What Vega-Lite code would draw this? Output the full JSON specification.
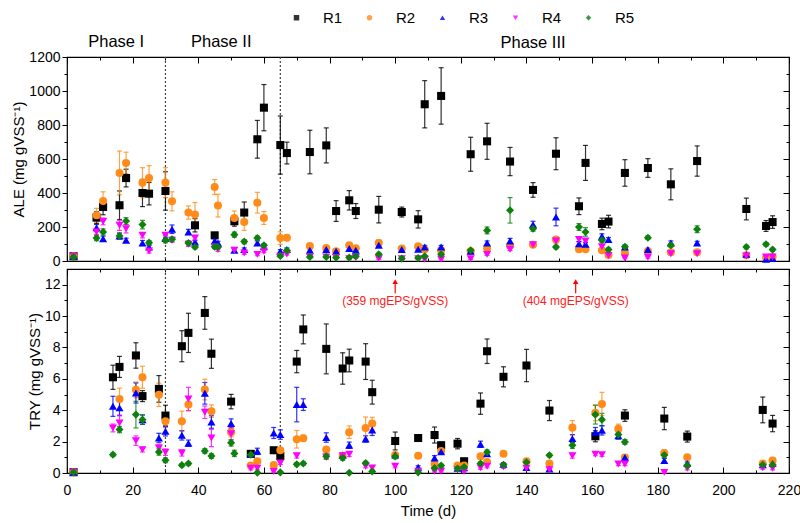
{
 "$schema": "https://vega.github.io/schema/vega-lite/v6.json",
 "padding": {"left": 11, "top": 10, "right": 5, "bottom": 4},
 "background": "white",
 "spacing": -6,
 "config": {
  "font": "Liberation Sans",
  "view": {"stroke": "black", "strokeWidth": 1.2},
  "axis": {"grid": false, "domain": false, "labelFlush": false, "minExtent": 0, "labelFont": "Liberation Sans", "labelFontSize": 14, "labelColor": "black", "titleFont": "Liberation Sans", "titleFontSize": 15, "titleFontWeight": "normal", "titleColor": "black", "tickColor": "black", "tickWidth": 1},
  "legend": {"orient": "none", "legendX": 222, "legendY": -47, "direction": "horizontal", "title": null, "labelFont": "Liberation Sans", "labelFontSize": 15, "labelColor": "black", "labelOffset": 19, "columnPadding": 19, "symbolSize": 30, "symbolStrokeWidth": 0}
 },
 "datasets": {
  "ale": [
   {"s":"R1","d":2,"v":28,"e":5},{"s":"R1","d":9,"v":255,"e":35},{"s":"R1","d":11,"v":318,"e":46},{"s":"R1","d":16,"v":328,"e":84},{"s":"R1","d":18,"v":488,"e":52},{"s":"R1","d":23,"v":400,"e":80},{"s":"R1","d":25,"v":396,"e":66},{"s":"R1","d":30,"v":412,"e":113},{"s":"R1","d":39,"v":210,"e":39},{"s":"R1","d":45,"v":151,"e":15},{"s":"R1","d":51,"v":234,"e":29},{"s":"R1","d":54,"v":285,"e":62},{"s":"R1","d":58,"v":716,"e":111},{"s":"R1","d":60,"v":902,"e":136},{"s":"R1","d":65,"v":682,"e":171},{"s":"R1","d":67,"v":635,"e":64},{"s":"R1","d":74,"v":641,"e":128},{"s":"R1","d":79,"v":680,"e":103},{"s":"R1","d":82,"v":294,"e":61},{"s":"R1","d":86,"v":357,"e":57},{"s":"R1","d":88,"v":294,"e":44},{"s":"R1","d":95,"v":302,"e":78},{"s":"R1","d":102,"v":288,"e":29},{"s":"R1","d":107,"v":245,"e":51},{"s":"R1","d":109,"v":922,"e":139},{"s":"R1","d":114,"v":971,"e":166},{"s":"R1","d":123,"v":628,"e":100},{"s":"R1","d":128,"v":704,"e":106},{"s":"R1","d":135,"v":585,"e":83},{"s":"R1","d":142,"v":418,"e":43},{"s":"R1","d":149,"v":631,"e":94},{"s":"R1","d":156,"v":322,"e":49},{"s":"R1","d":158,"v":577,"e":103},{"s":"R1","d":163,"v":218,"e":34},{"s":"R1","d":165,"v":232,"e":37},{"s":"R1","d":170,"v":518,"e":78},{"s":"R1","d":177,"v":547,"e":55},{"s":"R1","d":184,"v":451,"e":91},{"s":"R1","d":192,"v":588,"e":89},{"s":"R1","d":207,"v":306,"e":64},{"s":"R1","d":213,"v":206,"e":32},{"s":"R1","d":215,"v":229,"e":37},
   {"s":"R2","d":2,"v":28,"e":5},{"s":"R2","d":9,"v":269,"e":41},{"s":"R2","d":11,"v":353,"e":54},{"s":"R2","d":16,"v":518,"e":129},{"s":"R2","d":18,"v":577,"e":63},{"s":"R2","d":23,"v":461,"e":88},{"s":"R2","d":25,"v":488,"e":73},{"s":"R2","d":30,"v":461,"e":88},{"s":"R2","d":32,"v":351,"e":56},{"s":"R2","d":37,"v":285,"e":39},{"s":"R2","d":39,"v":273,"e":71},{"s":"R2","d":45,"v":435,"e":44},{"s":"R2","d":46,"v":326,"e":67},{"s":"R2","d":51,"v":253,"e":41},{"s":"R2","d":54,"v":229,"e":49},{"s":"R2","d":58,"v":343,"e":61},{"s":"R2","d":60,"v":253,"e":38},{"s":"R2","d":65,"v":135,"e":37},{"s":"R2","d":67,"v":137,"e":15},{"s":"R2","d":74,"v":88,"e":12},{"s":"R2","d":79,"v":77,"e":12},{"s":"R2","d":82,"v":57,"e":10},{"s":"R2","d":86,"v":92,"e":12},{"s":"R2","d":88,"v":75,"e":10},{"s":"R2","d":95,"v":106,"e":20},{"s":"R2","d":102,"v":73,"e":10},{"s":"R2","d":107,"v":86,"e":12},{"s":"R2","d":109,"v":67,"e":10},{"s":"R2","d":114,"v":63,"e":10},{"s":"R2","d":123,"v":57,"e":10},{"s":"R2","d":128,"v":73,"e":10},{"s":"R2","d":135,"v":90,"e":12},{"s":"R2","d":142,"v":96,"e":10},{"s":"R2","d":149,"v":126,"e":15},{"s":"R2","d":156,"v":69,"e":10},{"s":"R2","d":158,"v":69,"e":12},{"s":"R2","d":163,"v":63,"e":10},{"s":"R2","d":165,"v":35,"e":8},{"s":"R2","d":170,"v":47,"e":8},{"s":"R2","d":177,"v":57,"e":8},{"s":"R2","d":184,"v":51,"e":8},{"s":"R2","d":192,"v":51,"e":8},{"s":"R2","d":207,"v":34,"e":6},{"s":"R2","d":213,"v":18,"e":5},{"s":"R2","d":215,"v":24,"e":5},
   {"s":"R3","d":2,"v":28,"e":5},{"s":"R3","d":9,"v":195,"e":20},{"s":"R3","d":11,"v":131,"e":15},{"s":"R3","d":16,"v":147,"e":18},{"s":"R3","d":18,"v":122,"e":12},{"s":"R3","d":23,"v":106,"e":15},{"s":"R3","d":25,"v":82,"e":10},{"s":"R3","d":30,"v":133,"e":15},{"s":"R3","d":32,"v":187,"e":25},{"s":"R3","d":37,"v":171,"e":15},{"s":"R3","d":39,"v":112,"e":12},{"s":"R3","d":45,"v":118,"e":12},{"s":"R3","d":46,"v":106,"e":10},{"s":"R3","d":51,"v":63,"e":10},{"s":"R3","d":54,"v":67,"e":10},{"s":"R3","d":58,"v":106,"e":12},{"s":"R3","d":60,"v":84,"e":10},{"s":"R3","d":65,"v":57,"e":10},{"s":"R3","d":67,"v":67,"e":10},{"s":"R3","d":74,"v":63,"e":8},{"s":"R3","d":79,"v":67,"e":8},{"s":"R3","d":82,"v":57,"e":8},{"s":"R3","d":86,"v":73,"e":8},{"s":"R3","d":88,"v":63,"e":8},{"s":"R3","d":95,"v":92,"e":10},{"s":"R3","d":102,"v":67,"e":8},{"s":"R3","d":107,"v":69,"e":8},{"s":"R3","d":109,"v":82,"e":10},{"s":"R3","d":114,"v":82,"e":10},{"s":"R3","d":123,"v":57,"e":8},{"s":"R3","d":128,"v":106,"e":12},{"s":"R3","d":135,"v":118,"e":15},{"s":"R3","d":142,"v":214,"e":20},{"s":"R3","d":149,"v":259,"e":52},{"s":"R3","d":156,"v":102,"e":12},{"s":"R3","d":158,"v":98,"e":12},{"s":"R3","d":163,"v":145,"e":15},{"s":"R3","d":165,"v":126,"e":12},{"s":"R3","d":170,"v":82,"e":10},{"s":"R3","d":177,"v":67,"e":8},{"s":"R3","d":184,"v":106,"e":12},{"s":"R3","d":192,"v":106,"e":10},{"s":"R3","d":207,"v":39,"e":6},{"s":"R3","d":213,"v":10,"e":5},{"s":"R3","d":215,"v":16,"e":5},
   {"s":"R4","d":2,"v":28,"e":5},{"s":"R4","d":9,"v":171,"e":15},{"s":"R4","d":11,"v":233,"e":20},{"s":"R4","d":16,"v":210,"e":30},{"s":"R4","d":18,"v":190,"e":25},{"s":"R4","d":23,"v":151,"e":15},{"s":"R4","d":25,"v":59,"e":12},{"s":"R4","d":30,"v":151,"e":15},{"s":"R4","d":32,"v":122,"e":12},{"s":"R4","d":37,"v":98,"e":12},{"s":"R4","d":39,"v":135,"e":15},{"s":"R4","d":45,"v":82,"e":10},{"s":"R4","d":46,"v":67,"e":10},{"s":"R4","d":51,"v":63,"e":10},{"s":"R4","d":54,"v":47,"e":8},{"s":"R4","d":58,"v":39,"e":8},{"s":"R4","d":60,"v":57,"e":8},{"s":"R4","d":65,"v":28,"e":6},{"s":"R4","d":67,"v":41,"e":6},{"s":"R4","d":74,"v":24,"e":5},{"s":"R4","d":79,"v":24,"e":5},{"s":"R4","d":82,"v":20,"e":5},{"s":"R4","d":86,"v":14,"e":5},{"s":"R4","d":88,"v":20,"e":5},{"s":"R4","d":95,"v":14,"e":5},{"s":"R4","d":102,"v":14,"e":5},{"s":"R4","d":107,"v":14,"e":5},{"s":"R4","d":109,"v":10,"e":5},{"s":"R4","d":114,"v":10,"e":5},{"s":"R4","d":123,"v":14,"e":5},{"s":"R4","d":128,"v":39,"e":6},{"s":"R4","d":135,"v":69,"e":8},{"s":"R4","d":142,"v":96,"e":10},{"s":"R4","d":149,"v":118,"e":12},{"s":"R4","d":156,"v":126,"e":12},{"s":"R4","d":158,"v":118,"e":12},{"s":"R4","d":163,"v":84,"e":10},{"s":"R4","d":165,"v":33,"e":6},{"s":"R4","d":170,"v":18,"e":5},{"s":"R4","d":177,"v":22,"e":5},{"s":"R4","d":184,"v":43,"e":6},{"s":"R4","d":192,"v":43,"e":6},{"s":"R4","d":207,"v":30,"e":5},{"s":"R4","d":213,"v":24,"e":5},{"s":"R4","d":215,"v":24,"e":5},
   {"s":"R5","d":2,"v":24,"e":5},{"s":"R5","d":9,"v":135,"e":15},{"s":"R5","d":11,"v":171,"e":18},{"s":"R5","d":16,"v":147,"e":15},{"s":"R5","d":18,"v":235,"e":20},{"s":"R5","d":23,"v":214,"e":25},{"s":"R5","d":25,"v":108,"e":12},{"s":"R5","d":30,"v":122,"e":15},{"s":"R5","d":32,"v":128,"e":12},{"s":"R5","d":37,"v":106,"e":12},{"s":"R5","d":39,"v":82,"e":10},{"s":"R5","d":45,"v":84,"e":10},{"s":"R5","d":46,"v":82,"e":10},{"s":"R5","d":51,"v":155,"e":15},{"s":"R5","d":54,"v":114,"e":12},{"s":"R5","d":58,"v":135,"e":12},{"s":"R5","d":60,"v":92,"e":10},{"s":"R5","d":65,"v":30,"e":6},{"s":"R5","d":67,"v":62,"e":8},{"s":"R5","d":74,"v":24,"e":5},{"s":"R5","d":79,"v":24,"e":5},{"s":"R5","d":82,"v":20,"e":5},{"s":"R5","d":86,"v":20,"e":5},{"s":"R5","d":88,"v":28,"e":5},{"s":"R5","d":95,"v":39,"e":6},{"s":"R5","d":102,"v":14,"e":5},{"s":"R5","d":107,"v":18,"e":5},{"s":"R5","d":109,"v":28,"e":5},{"s":"R5","d":114,"v":39,"e":6},{"s":"R5","d":123,"v":63,"e":8},{"s":"R5","d":128,"v":180,"e":20},{"s":"R5","d":135,"v":298,"e":75},{"s":"R5","d":142,"v":190,"e":15},{"s":"R5","d":149,"v":82,"e":10},{"s":"R5","d":156,"v":200,"e":20},{"s":"R5","d":158,"v":171,"e":25},{"s":"R5","d":163,"v":122,"e":12},{"s":"R5","d":165,"v":67,"e":10},{"s":"R5","d":170,"v":84,"e":10},{"s":"R5","d":177,"v":137,"e":10},{"s":"R5","d":184,"v":92,"e":10},{"s":"R5","d":192,"v":187,"e":20},{"s":"R5","d":207,"v":82,"e":10},{"s":"R5","d":213,"v":98,"e":10},{"s":"R5","d":215,"v":67,"e":8}
  ],
  "try": [
   {"s":"R1","d":2,"v":0.05,"e":0.02},{"s":"R1","d":14,"v":6.1,"e":0.77},{"s":"R1","d":16,"v":6.76,"e":0.67},{"s":"R1","d":21,"v":7.49,"e":0.81},{"s":"R1","d":23,"v":4.9,"e":0.35},{"s":"R1","d":28,"v":5.36,"e":0.85},{"s":"R1","d":30,"v":3.66,"e":0.66},{"s":"R1","d":35,"v":8.08,"e":0.99},{"s":"R1","d":37,"v":8.93,"e":1.25},{"s":"R1","d":42,"v":10.2,"e":1.04},{"s":"R1","d":44,"v":7.6,"e":0.93},{"s":"R1","d":50,"v":4.55,"e":0.46},{"s":"R1","d":56,"v":1.22,"e":0.1},{"s":"R1","d":63,"v":1.45,"e":0.1},{"s":"R1","d":65,"v":1.08,"e":0.1},{"s":"R1","d":70,"v":7.1,"e":0.71},{"s":"R1","d":72,"v":9.15,"e":0.92},{"s":"R1","d":79,"v":7.91,"e":1.59},{"s":"R1","d":84,"v":6.66,"e":1.0},{"s":"R1","d":86,"v":7.17,"e":0.72},{"s":"R1","d":91,"v":7.1,"e":1.14},{"s":"R1","d":93,"v":5.15,"e":0.76},{"s":"R1","d":100,"v":2.04,"e":0.57},{"s":"R1","d":107,"v":2.23,"e":0.21},{"s":"R1","d":112,"v":2.42,"e":0.51},{"s":"R1","d":114,"v":1.77,"e":0.2},{"s":"R1","d":119,"v":1.87,"e":0.33},{"s":"R1","d":121,"v":0.75,"e":0.15},{"s":"R1","d":126,"v":4.42,"e":0.68},{"s":"R1","d":128,"v":7.76,"e":0.78},{"s":"R1","d":133,"v":6.13,"e":0.64},{"s":"R1","d":140,"v":6.85,"e":1.03},{"s":"R1","d":147,"v":3.98,"e":0.64},{"s":"R1","d":161,"v":2.34,"e":0.35},{"s":"R1","d":170,"v":3.66,"e":0.37},{"s":"R1","d":182,"v":3.47,"e":0.71},{"s":"R1","d":189,"v":2.32,"e":0.35},{"s":"R1","d":212,"v":4.02,"e":0.82},{"s":"R1","d":215,"v":3.15,"e":0.52},
   {"s":"R2","d":2,"v":0.05,"e":0.02},{"s":"R2","d":16,"v":4.72,"e":0.69},{"s":"R2","d":21,"v":5.3,"e":0.5},{"s":"R2","d":23,"v":6.1,"e":0.7},{"s":"R2","d":28,"v":4.98,"e":0.74},{"s":"R2","d":30,"v":3.3,"e":0.4},{"s":"R2","d":35,"v":3.3,"e":0.64},{"s":"R2","d":37,"v":4.36,"e":0.4},{"s":"R2","d":42,"v":5.32,"e":0.66},{"s":"R2","d":44,"v":3.94,"e":0.4},{"s":"R2","d":50,"v":2.6,"e":0.3},{"s":"R2","d":56,"v":0.47,"e":0.1},{"s":"R2","d":58,"v":0.75,"e":0.15},{"s":"R2","d":63,"v":0.5,"e":0.1},{"s":"R2","d":65,"v":1.45,"e":0.15},{"s":"R2","d":70,"v":2.15,"e":0.56},{"s":"R2","d":72,"v":2.21,"e":0.2},{"s":"R2","d":79,"v":1.49,"e":0.15},{"s":"R2","d":84,"v":1.1,"e":0.15},{"s":"R2","d":86,"v":2.6,"e":0.4},{"s":"R2","d":91,"v":2.87,"e":0.7},{"s":"R2","d":93,"v":3.15,"e":0.4},{"s":"R2","d":100,"v":1.15,"e":0.15},{"s":"R2","d":107,"v":1.1,"e":0.15},{"s":"R2","d":112,"v":0.57,"e":0.1},{"s":"R2","d":114,"v":1.4,"e":0.15},{"s":"R2","d":119,"v":0.47,"e":0.1},{"s":"R2","d":121,"v":0.47,"e":0.1},{"s":"R2","d":126,"v":1.06,"e":0.15},{"s":"R2","d":128,"v":0.7,"e":0.1},{"s":"R2","d":133,"v":1.23,"e":0.15},{"s":"R2","d":140,"v":0.75,"e":0.1},{"s":"R2","d":147,"v":0.6,"e":0.1},{"s":"R2","d":154,"v":2.89,"e":0.45},{"s":"R2","d":161,"v":3.83,"e":0.5},{"s":"R2","d":163,"v":4.4,"e":0.74},{"s":"R2","d":168,"v":2.81,"e":0.3},{"s":"R2","d":170,"v":0.99,"e":0.15},{"s":"R2","d":182,"v":1.28,"e":0.2},{"s":"R2","d":189,"v":1.0,"e":0.15},{"s":"R2","d":212,"v":0.6,"e":0.1},{"s":"R2","d":215,"v":0.8,"e":0.15},
   {"s":"R3","d":2,"v":0.05,"e":0.02},{"s":"R3","d":14,"v":4.25,"e":0.64},{"s":"R3","d":16,"v":4.15,"e":0.5},{"s":"R3","d":21,"v":5.1,"e":0.64},{"s":"R3","d":23,"v":3.4,"e":0.3},{"s":"R3","d":28,"v":2.23,"e":0.3},{"s":"R3","d":30,"v":2.66,"e":0.3},{"s":"R3","d":35,"v":2.4,"e":0.3},{"s":"R3","d":37,"v":1.9,"e":0.2},{"s":"R3","d":42,"v":5.08,"e":0.69},{"s":"R3","d":44,"v":3.25,"e":0.4},{"s":"R3","d":50,"v":3.15,"e":0.3},{"s":"R3","d":56,"v":1.21,"e":0.2},{"s":"R3","d":58,"v":1.38,"e":0.2},{"s":"R3","d":63,"v":2.55,"e":0.35},{"s":"R3","d":65,"v":2.45,"e":0.3},{"s":"R3","d":70,"v":4.36,"e":1.1},{"s":"R3","d":72,"v":4.36,"e":0.37},{"s":"R3","d":79,"v":2.26,"e":0.3},{"s":"R3","d":84,"v":1.14,"e":0.15},{"s":"R3","d":86,"v":1.77,"e":0.2},{"s":"R3","d":91,"v":2.17,"e":0.2},{"s":"R3","d":93,"v":2.74,"e":0.35},{"s":"R3","d":100,"v":1.14,"e":0.15},{"s":"R3","d":107,"v":0.36,"e":0.1},{"s":"R3","d":112,"v":0.96,"e":0.15},{"s":"R3","d":114,"v":1.36,"e":0.15},{"s":"R3","d":119,"v":0.3,"e":0.1},{"s":"R3","d":121,"v":0.34,"e":0.1},{"s":"R3","d":126,"v":1.83,"e":0.2},{"s":"R3","d":128,"v":1.23,"e":0.15},{"s":"R3","d":133,"v":0.55,"e":0.1},{"s":"R3","d":140,"v":0.35,"e":0.1},{"s":"R3","d":147,"v":0.25,"e":0.1},{"s":"R3","d":154,"v":2.19,"e":0.25},{"s":"R3","d":161,"v":2.6,"e":0.3},{"s":"R3","d":163,"v":2.72,"e":0.3},{"s":"R3","d":168,"v":2.38,"e":0.2},{"s":"R3","d":170,"v":0.99,"e":0.15},{"s":"R3","d":182,"v":0.8,"e":0.15},{"s":"R3","d":189,"v":0.6,"e":0.1},{"s":"R3","d":212,"v":0.53,"e":0.1},{"s":"R3","d":215,"v":0.6,"e":0.1},
   {"s":"R4","d":2,"v":0.05,"e":0.02},{"s":"R4","d":14,"v":2.87,"e":0.25},{"s":"R4","d":16,"v":3.19,"e":0.5},{"s":"R4","d":21,"v":2.06,"e":0.3},{"s":"R4","d":23,"v":1.49,"e":0.15},{"s":"R4","d":28,"v":1.6,"e":0.2},{"s":"R4","d":30,"v":1.32,"e":0.2},{"s":"R4","d":35,"v":1.28,"e":0.2},{"s":"R4","d":37,"v":4.72,"e":0.74},{"s":"R4","d":42,"v":3.87,"e":0.4},{"s":"R4","d":44,"v":2.23,"e":0.55},{"s":"R4","d":50,"v":2.5,"e":0.4},{"s":"R4","d":56,"v":0.3,"e":0.1},{"s":"R4","d":58,"v":0.3,"e":0.1},{"s":"R4","d":63,"v":0.1,"e":0.05},{"s":"R4","d":65,"v":0.64,"e":0.1},{"s":"R4","d":70,"v":1.1,"e":0.15},{"s":"R4","d":79,"v":1.02,"e":0.15},{"s":"R4","d":84,"v":1.1,"e":0.15},{"s":"R4","d":86,"v":1.2,"e":0.15},{"s":"R4","d":91,"v":0.43,"e":0.1},{"s":"R4","d":93,"v":0.32,"e":0.1},{"s":"R4","d":100,"v":0.43,"e":0.1},{"s":"R4","d":107,"v":0.11,"e":0.05},{"s":"R4","d":112,"v":0.11,"e":0.05},{"s":"R4","d":114,"v":0.11,"e":0.05},{"s":"R4","d":119,"v":0.21,"e":0.05},{"s":"R4","d":121,"v":0.11,"e":0.05},{"s":"R4","d":126,"v":0.34,"e":0.1},{"s":"R4","d":128,"v":0.43,"e":0.1},{"s":"R4","d":133,"v":0.4,"e":0.1},{"s":"R4","d":140,"v":0.3,"e":0.1},{"s":"R4","d":147,"v":0.2,"e":0.05},{"s":"R4","d":154,"v":1.1,"e":0.15},{"s":"R4","d":161,"v":1.2,"e":0.1},{"s":"R4","d":163,"v":1.16,"e":0.1},{"s":"R4","d":168,"v":0.57,"e":0.1},{"s":"R4","d":170,"v":0.57,"e":0.1},{"s":"R4","d":182,"v":0.04,"e":0.05},{"s":"R4","d":189,"v":0.3,"e":0.1},{"s":"R4","d":212,"v":0.34,"e":0.1},{"s":"R4","d":215,"v":0.3,"e":0.1},
   {"s":"R5","d":2,"v":0.05,"e":0.03},{"s":"R5","d":14,"v":1.17,"e":0.1},{"s":"R5","d":16,"v":2.77,"e":0.2},{"s":"R5","d":21,"v":3.72,"e":0.85},{"s":"R5","d":23,"v":3.4,"e":0.3},{"s":"R5","d":28,"v":1.34,"e":0.2},{"s":"R5","d":30,"v":0.81,"e":0.15},{"s":"R5","d":35,"v":0.5,"e":0.1},{"s":"R5","d":37,"v":0.6,"e":0.1},{"s":"R5","d":42,"v":1.4,"e":0.15},{"s":"R5","d":44,"v":1.08,"e":0.15},{"s":"R5","d":50,"v":1.92,"e":0.2},{"s":"R5","d":51,"v":1.25,"e":0.2},{"s":"R5","d":56,"v":1.17,"e":0.15},{"s":"R5","d":58,"v":0.02,"e":0.05},{"s":"R5","d":65,"v":0.04,"e":0.05},{"s":"R5","d":70,"v":0.55,"e":0.1},{"s":"R5","d":72,"v":0.6,"e":0.1},{"s":"R5","d":79,"v":1.06,"e":0.15},{"s":"R5","d":84,"v":0.96,"e":0.15},{"s":"R5","d":86,"v":0.02,"e":0.05},{"s":"R5","d":91,"v":0.64,"e":0.1},{"s":"R5","d":93,"v":0.1,"e":0.05},{"s":"R5","d":100,"v":1.06,"e":0.15},{"s":"R5","d":107,"v":0.04,"e":0.05},{"s":"R5","d":112,"v":0.32,"e":0.1},{"s":"R5","d":114,"v":0.47,"e":0.1},{"s":"R5","d":119,"v":0.28,"e":0.1},{"s":"R5","d":121,"v":0.38,"e":0.1},{"s":"R5","d":126,"v":0.6,"e":0.1},{"s":"R5","d":128,"v":1.32,"e":0.15},{"s":"R5","d":133,"v":0.53,"e":0.1},{"s":"R5","d":140,"v":0.68,"e":0.1},{"s":"R5","d":147,"v":1.13,"e":0.1},{"s":"R5","d":154,"v":1.77,"e":0.2},{"s":"R5","d":161,"v":3.72,"e":0.6},{"s":"R5","d":163,"v":3.4,"e":0.4},{"s":"R5","d":168,"v":2.45,"e":0.3},{"s":"R5","d":170,"v":1.98,"e":0.15},{"s":"R5","d":182,"v":1.14,"e":0.2},{"s":"R5","d":189,"v":0.47,"e":0.1},{"s":"R5","d":212,"v":0.53,"e":0.1},{"s":"R5","d":215,"v":0.53,"e":0.1}
  ]
 },
 "vconcat": [
  {
   "width": 722, "height": 204,
   "resolve": {"axis": {"x": "independent", "y": "independent"}},
   "layer": [
    {
     "data": {"values": [{"d": 30}, {"d": 65}]},
     "mark": {"type": "rule", "strokeDash": [2, 2], "color": "#444444", "strokeWidth": 1.2},
     "encoding": {
      "x": {"field": "d", "type": "quantitative", "scale": {"domain": [0, 220], "nice": false},
            "axis": {"orient": "bottom", "values": [0,10,20,30,40,50,60,70,80,90,100,110,120,130,140,150,160,170,180,190,200,210,220], "labels": false, "title": null, "tickSize": {"condition": {"test": "datum.value % 20 === 0", "value": -6}, "value": -3}}}
     }
    },
    {
     "data": {"name": "ale"},
     "mark": {"type": "errorbar", "ticks": true, "thickness": 1.2, "opacity": 0.8},
     "encoding": {
      "x": {"field": "d", "type": "quantitative", "scale": {"domain": [0, 220], "nice": false},
            "axis": {"orient": "top", "values": [0,10,20,30,40,50,60,70,80,90,100,110,120,130,140,150,160,170,180,190,200,210,220], "labels": false, "title": null, "tickSize": {"condition": {"test": "datum.value % 20 === 0", "value": -6}, "value": -3}}},
      "y": {"field": "v", "type": "quantitative", "scale": {"domain": [0, 1200], "nice": false},
            "axis": {"orient": "left", "values": [0,100,200,300,400,500,600,700,800,900,1000,1100,1200], "format": "d", "labelExpr": "datum.value % 200 === 0 ? datum.label : ''", "title": "ALE (mg gVSS⁻¹)", "titlePadding": 2, "tickSize": {"condition": {"test": "datum.value % 200 === 0", "value": 5}, "value": 3}}},
      "yError": {"field": "e"},
      "color": {"field": "s", "type": "nominal", "scale": {"domain": ["R1","R2","R3","R4","R5"], "range": ["#000000","#FF8C1A","#0000FF","#FF00FF","#0E800E"]}}
     }
    },
    {
     "data": {"name": "ale"},
     "mark": {"type": "point", "filled": true, "size": 65, "opacity": 1},
     "encoding": {
      "x": {"field": "d", "type": "quantitative", "scale": {"domain": [0, 220], "nice": false}, "axis": null},
      "y": {"field": "v", "type": "quantitative", "scale": {"domain": [0, 1200], "nice": false},
            "axis": {"orient": "right", "values": [0,100,200,300,400,500,600,700,800,900,1000,1100,1200], "labels": false, "title": null, "tickSize": {"condition": {"test": "datum.value % 200 === 0", "value": -6}, "value": -3}}},
      "color": {"field": "s", "type": "nominal", "scale": {"domain": ["R1","R2","R3","R4","R5"], "range": ["#000000","#FF8C1A","#0000FF","#FF00FF","#0E800E"]}},
      "shape": {"field": "s", "type": "nominal", "scale": {"domain": ["R1","R2","R3","R4","R5"], "range": ["square","circle","triangle-up","triangle-down","diamond"]}}
     }
    },
    {
     "data": {"values": [{"t": "Phase I", "d": 15, "y": 1290}, {"t": "Phase II", "d": 47, "y": 1290}, {"t": "Phase III", "d": 142, "y": 1285}]},
     "mark": {"type": "text", "fontSize": 16.5, "font": "Liberation Sans", "color": "black", "baseline": "middle"},
     "encoding": {
      "x": {"field": "d", "type": "quantitative", "scale": {"domain": [0, 220], "nice": false}, "axis": null},
      "y": {"field": "y", "type": "quantitative", "scale": {"domain": [0, 1200], "nice": false}, "axis": null},
      "text": {"field": "t"}
     }
    }
   ]
  },
  {
   "width": 722, "height": 204,
   "resolve": {"axis": {"x": "independent", "y": "independent"}},
   "layer": [
    {
     "data": {"values": [{"d": 30}, {"d": 65}]},
     "mark": {"type": "rule", "strokeDash": [2, 2], "color": "#444444", "strokeWidth": 1.2},
     "encoding": {
      "x": {"field": "d", "type": "quantitative", "scale": {"domain": [0, 220], "nice": false},
            "axis": {"orient": "top", "values": [0,10,20,30,40,50,60,70,80,90,100,110,120,130,140,150,160,170,180,190,200,210,220], "labels": false, "title": null, "tickSize": {"condition": {"test": "datum.value % 20 === 0", "value": -6}, "value": -3}}}
     }
    },
    {
     "data": {"name": "try"},
     "mark": {"type": "errorbar", "ticks": true, "thickness": 1.2, "opacity": 0.8},
     "encoding": {
      "x": {"field": "d", "type": "quantitative", "scale": {"domain": [0, 220], "nice": false},
            "axis": {"orient": "bottom", "values": [0,10,20,30,40,50,60,70,80,90,100,110,120,130,140,150,160,170,180,190,200,210,220], "labelExpr": "datum.value % 20 === 0 ? datum.label : ''", "title": "Time (d)", "titlePadding": 6, "labelPadding": 16, "tickSize": {"condition": {"test": "datum.value % 20 === 0", "value": -6}, "value": -3}}},
      "y": {"field": "v", "type": "quantitative", "scale": {"domain": [0, 13], "nice": false},
            "axis": {"orient": "left", "values": [0,1,2,3,4,5,6,7,8,9,10,11,12], "labelExpr": "datum.value % 2 === 0 ? datum.label : ''", "title": "TRY (mg gVSS⁻¹)", "titlePadding": 2, "tickSize": {"condition": {"test": "datum.value % 2 === 0", "value": 5}, "value": 3}}},
      "yError": {"field": "e"},
      "color": {"field": "s", "type": "nominal", "scale": {"domain": ["R1","R2","R3","R4","R5"], "range": ["#000000","#FF8C1A","#0000FF","#FF00FF","#0E800E"]}}
     }
    },
    {
     "data": {"name": "try"},
     "mark": {"type": "point", "filled": true, "size": 65, "opacity": 1},
     "encoding": {
      "x": {"field": "d", "type": "quantitative", "scale": {"domain": [0, 220], "nice": false}, "axis": null},
      "y": {"field": "v", "type": "quantitative", "scale": {"domain": [0, 13], "nice": false},
            "axis": {"orient": "right", "values": [0,1,2,3,4,5,6,7,8,9,10,11,12], "labels": false, "title": null, "tickSize": {"condition": {"test": "datum.value % 2 === 0", "value": -6}, "value": -3}}},
      "color": {"field": "s", "type": "nominal", "scale": {"domain": ["R1","R2","R3","R4","R5"], "range": ["#000000","#FF8C1A","#0000FF","#FF00FF","#0E800E"]}},
      "shape": {"field": "s", "type": "nominal", "scale": {"domain": ["R1","R2","R3","R4","R5"], "range": ["square","circle","triangle-up","triangle-down","diamond"]}}
     }
    },
    {
     "data": {"values": [{"d": 100, "y1": 11.45, "y2": 12.2, "ty": 10.95, "t": "(359 mgEPS/gVSS)"}, {"d": 155, "y1": 11.45, "y2": 12.2, "ty": 10.95, "t": "(404 mgEPS/gVSS)"}]},
     "layer": [
      {
       "mark": {"type": "rule", "color": "#FF0000", "strokeWidth": 1.2},
       "encoding": {
        "x": {"field": "d", "type": "quantitative", "scale": {"domain": [0, 220], "nice": false}, "axis": null},
        "y": {"field": "y1", "type": "quantitative", "scale": {"domain": [0, 13], "nice": false}, "axis": null},
        "y2": {"field": "y2"}
       }
      },
      {
       "mark": {"type": "point", "shape": "triangle-up", "filled": true, "color": "#FF0000", "size": 30, "opacity": 1},
       "encoding": {
        "x": {"field": "d", "type": "quantitative", "scale": {"domain": [0, 220], "nice": false}, "axis": null},
        "y": {"field": "y2", "type": "quantitative", "scale": {"domain": [0, 13], "nice": false}, "axis": null}
       }
      },
      {
       "mark": {"type": "text", "color": "#FF1A1A", "fontSize": 12, "font": "Liberation Sans", "baseline": "middle"},
       "encoding": {
        "x": {"field": "d", "type": "quantitative", "scale": {"domain": [0, 220], "nice": false}, "axis": null},
        "y": {"field": "ty", "type": "quantitative", "scale": {"domain": [0, 13], "nice": false}, "axis": null},
        "text": {"field": "t"}
       }
      }
     ]
    }
   ]
  }
 ]
}
